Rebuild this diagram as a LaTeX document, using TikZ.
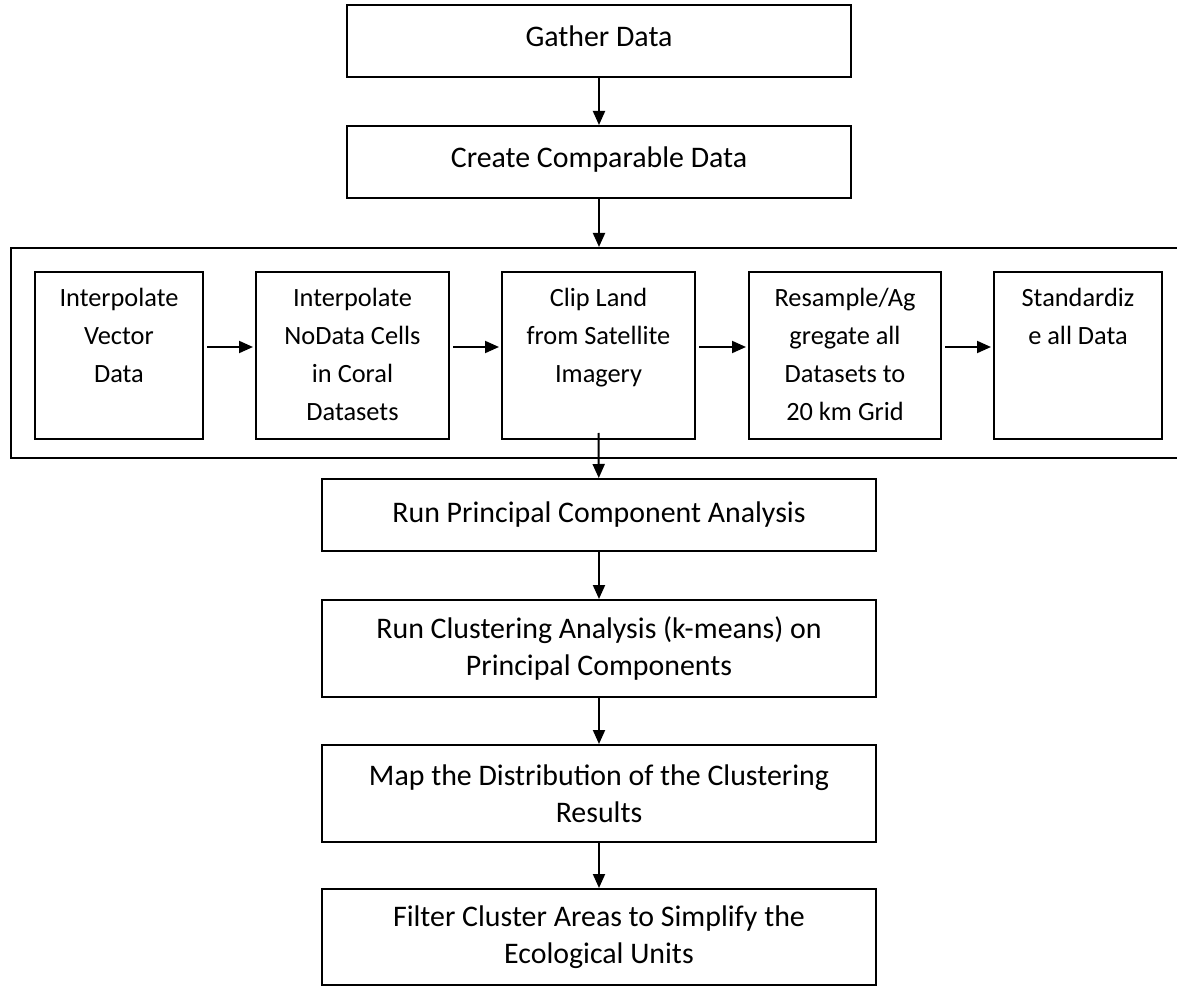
\documentclass[tikz,border=0pt]{standalone}
\usepackage{fontspec}
\setmainfont{Carlito}
\usetikzlibrary{arrows.meta,calc}

% top-aligned text of the five small steps
\newcommand{\subtext}[2]{\parbox[c][3.34cm][t]{#1}{\fontsize{15}{21.6}\selectfont\centering\rule{0pt}{0.70cm}#2}}

\begin{document}
\begin{tikzpicture}[
  font=\fontsize{17}{21.3}\selectfont,
  stepbox/.style={draw, line width=0.04cm, inner sep=0pt, align=center},
  widebox/.style={stepbox, minimum width=10.08cm, minimum height=1.44cm, text height=0.4cm, text depth=0.16cm},
  mainbox/.style={stepbox, minimum width=11.08cm, minimum height=1.94cm},
  subbox/.style={draw, line width=0.04cm, inner sep=0pt},
  flow/.style={line width=0.04cm, -{Triangle[length=0.28cm,width=0.24cm]}},
]
\useasboundingbox (0,0) rectangle (23.54,-19.72);

% upper steps
\node[widebox] (gather) at (11.98,-0.82) {Gather Data};
\node[widebox] (create) at (11.98,-3.24) {Create Comparable Data};

% frame round the data preparation
\node[draw, line width=0.04cm, minimum width=23.52cm, minimum height=4.2cm] (prep) at (11.98,-7.06) {};
\node[subbox] (vect)  at (2.38,-7.11)  {\subtext{3.36cm}{Interpolate\\Vector\\Data}};
\node[subbox] (nodat) at (7.05,-7.11)  {\subtext{3.86cm}{Interpolate\\NoData Cells\\in Coral\\Datasets}};
\node[subbox] (clip)  at (11.97,-7.11) {\subtext{3.86cm}{Clip Land\\from Satellite\\Imagery}};
\node[subbox] (resam) at (16.9,-7.11)  {\subtext{3.84cm}{Resample/Ag\\gregate all\\Datasets to\\20 km Grid}};
\node[subbox] (stand) at (21.56,-7.11) {\subtext{3.36cm}{Standardiz\\e all Data}};
\coordinate (clipout) at ($(clip.south)+(0,0.14)$);

% lower steps
\node[stepbox, minimum width=11.08cm, minimum height=1.44cm] (pca) at (11.98,-10.3) {Run Principal Component Analysis};
\node[mainbox] (clust) at (11.98,-12.97) {Run Clustering Analysis (k-means) on\\Principal Components};
\node[mainbox] (map)   at (11.98,-15.87) {Map the Distribution of the Clustering\\Results};
\node[mainbox, minimum height=1.92cm] (filt) at (11.98,-18.74) {Filter Cluster Areas to Simplify the\\Ecological Units};

% connectors
\draw[flow] (gather) -- (create);
\draw[flow] (create) -- (prep);
\foreach \a/\b in {vect/nodat, nodat/clip, clip/resam, resam/stand}
  \draw[flow, shorten <=0.06cm, shorten >=0.04cm] ([yshift=0.17cm]\a.east) -- ([yshift=0.17cm]\b.west);
\draw[flow] (clipout) -- (pca);
\draw[flow] (pca) -- (clust);
\draw[flow] (clust) -- (map);
\draw[flow] (map) -- (filt);
\end{tikzpicture}
\end{document}
